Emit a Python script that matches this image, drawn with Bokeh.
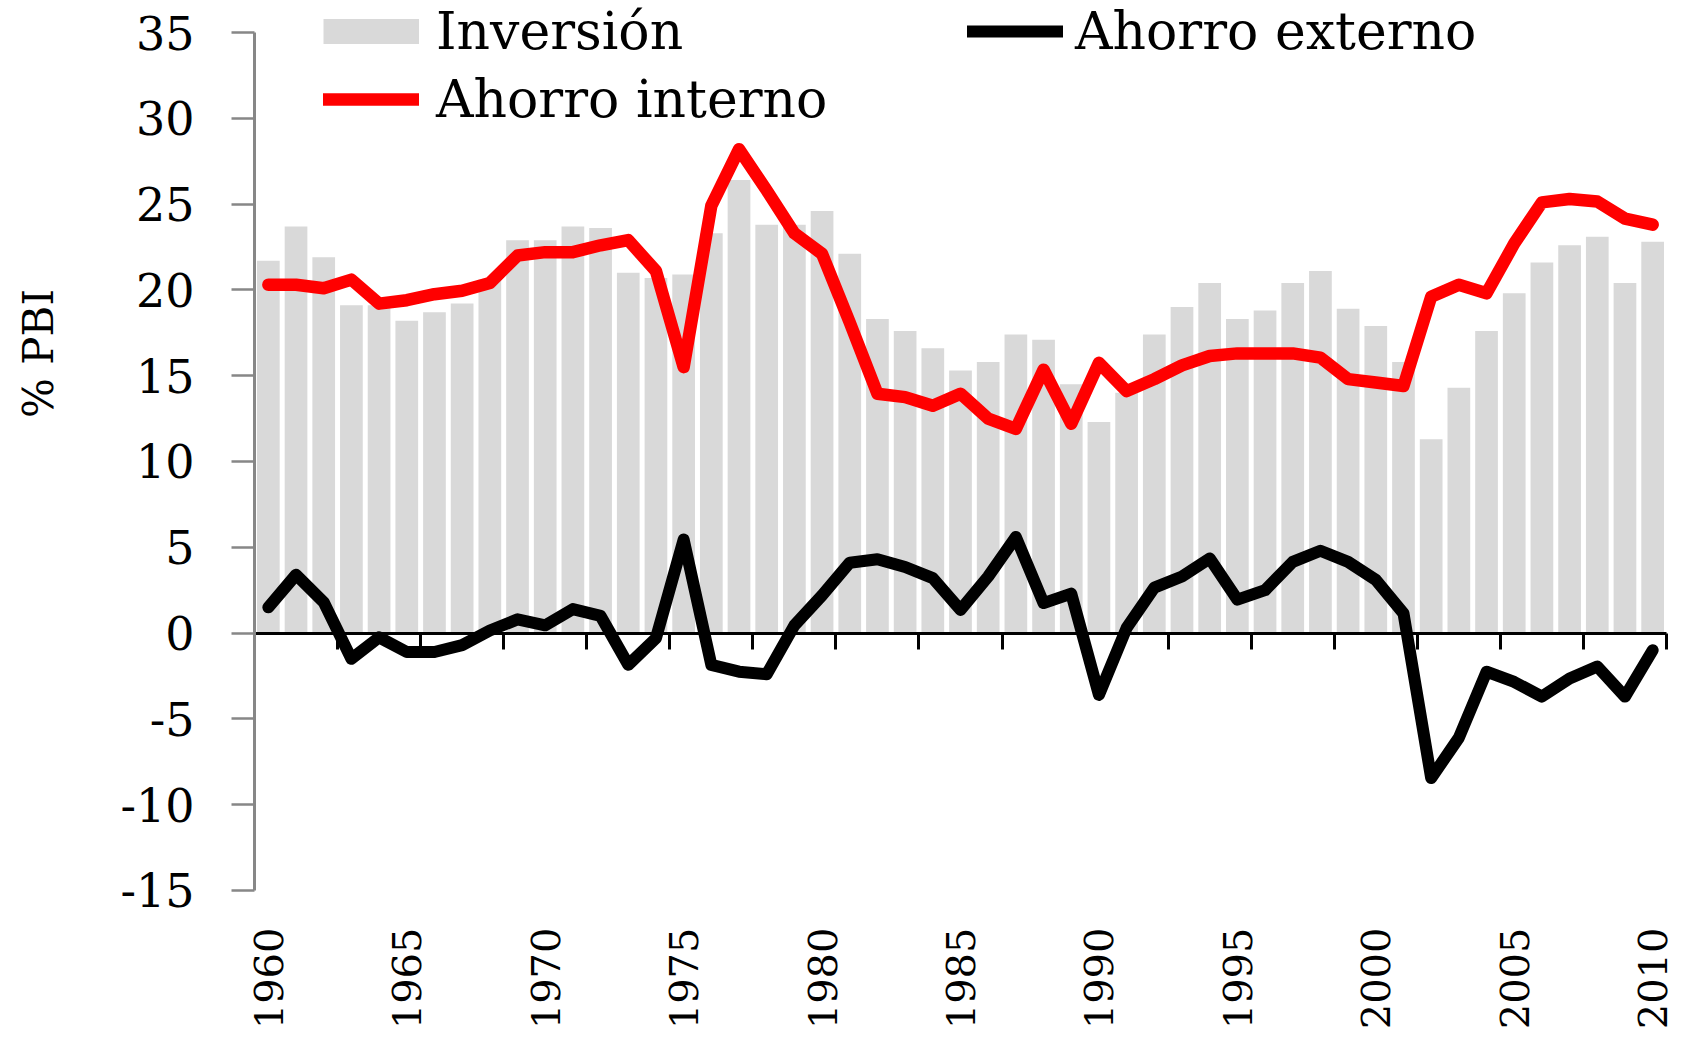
import math
import numpy as np
from bokeh.plotting import figure
from bokeh.models import (Range1d, LinearAxis, FixedTicker, Legend, LegendItem,
                          CustomJSTickFormatter, ColumnDataSource, Label)
from bokeh.embed import file_html
from bokeh.resources import INLINE

# ---------------- data ----------------
years = list(range(1960, 2011))

inversion = [21.7, 23.7, 21.9, 19.1, 19.1, 18.2, 18.7, 19.2, 20.6, 22.9,
             22.9, 23.7, 23.6, 21.0, 20.7, 20.9, 23.3, 26.4, 23.8, 23.8,
             24.6, 22.1, 18.3, 17.6, 16.6, 15.3, 15.8, 17.4, 17.1, 14.5,
             12.3, 14.0, 17.4, 19.0, 20.4, 18.3, 18.8, 20.4, 21.1, 18.9,
             17.9, 15.8, 11.3, 14.3, 17.6, 19.8, 21.6, 22.6, 23.1, 20.4,
             22.8]

ahorro_interno = [20.3, 20.3, 20.1, 20.6, 19.2, 19.4, 19.75, 19.95, 20.4, 22.0,
                  22.2, 22.2, 22.6, 22.9, 21.1, 15.5, 24.9, 28.2, 25.8, 23.3,
                  22.1, 18.1, 13.95, 13.75, 13.25, 13.95, 12.5, 11.9, 15.35, 12.2,
                  15.75, 14.1, 14.8, 15.6, 16.15, 16.3, 16.3, 16.3, 16.05, 14.8,
                  14.6, 14.4, 19.6, 20.3, 19.8, 22.7, 25.1, 25.3, 25.15, 24.15,
                  23.8]

ahorro_externo = [1.5, 3.4, 1.8, -1.5, -0.25, -1.1, -1.1, -0.7, 0.15, 0.8,
                  0.45, 1.4, 1.0, -1.85, -0.3, 5.45, -1.85, -2.25, -2.4, 0.45,
                  2.2, 4.1, 4.3, 3.85, 3.2, 1.35, 3.3, 5.6, 1.75, 2.3,
                  -3.6, 0.3, 2.65, 3.3, 4.35, 1.95, 2.5, 4.15, 4.8, 4.15,
                  3.1, 1.15, -8.45, -6.1, -2.25, -2.85, -3.7, -2.65, -1.95, -3.7,
                  -1.0]

y_ticks = [-15, -10, -5, 0, 5, 10, 15, 20, 25, 30, 35]
y_tick_labels = ["-15", "-10", "-5", "0", "5", "10", "15", "20", "25", "30", "35"]
x_label_years = [1960, 1965, 1970, 1975, 1980, 1985, 1990, 1995, 2000, 2005, 2010]
x_labels = ["1960", "1965", "1970", "1975", "1980", "1985", "1990", "1995",
            "2000", "2005", "2010"]

FONT = "DejaVu Serif"
GRAY_AXIS = "#878787"
W, H = 1678, 1030
PLOT_LEFT, PLOT_RIGHT = 254, 1666          # pixel extent of the category axis
CAT0, CAT1 = 1959.5, 2010.5                # category boundaries
PX = (PLOT_RIGHT - PLOT_LEFT) / (CAT1 - CAT0)

src = ColumnDataSource(dict(year=years, inv=inversion, ai=ahorro_interno, ae=ahorro_externo))

p = figure(width=W, height=H, output_backend="svg", toolbar_location=None,
           x_range=Range1d(CAT0 - PLOT_LEFT / PX, CAT1 + (W - PLOT_RIGHT) / PX),
           y_range=Range1d(-23.16, 36.865),
           x_axis_location=None, y_axis_location=None, min_border=0)
p.grid.visible = False
p.outline_line_color = None
p.background_fill_color = "white"

bars = p.vbar(x="year", top="inv", bottom=0, width=0.82, source=src,
              fill_color="#D9D9D9", line_color=None)
red = p.line(x="year", y="ai", source=src, line_color="#FF0000", line_width=12.5,
             line_join="round", line_cap="round")
blk = p.line(x="year", y="ae", source=src, line_color="#000000", line_width=12,
             line_join="round", line_cap="round")
# legend swatch for the bars (a thick butt-capped stroke in the bar colour, draws nothing in the plot)
swatch = p.line(x=[1960.0], y=np.array([np.nan]), line_color="#D9D9D9", line_width=25,
                line_cap="butt")

# ---------------- y axis (at the left edge of the categories) ----------------
ya = LinearAxis(fixed_location=CAT0, bounds=(-15, 35), ticker=FixedTicker(ticks=y_ticks))
ya.major_label_overrides = {t: s for t, s in zip(y_ticks, y_tick_labels)}
ya.axis_line_color = GRAY_AXIS
ya.axis_line_width = 3
ya.major_tick_line_color = GRAY_AXIS
ya.major_tick_line_width = 2.5
ya.major_tick_out = 23
ya.major_tick_in = 0
ya.minor_tick_line_color = None
ya.major_label_standoff = 37
ya.major_label_text_font = FONT
ya.major_label_text_font_size = "46px"
ya.major_label_text_color = "black"
p.add_layout(ya, "left")

# axis title
ylab = Label(x=38, y=H - 353, x_units="screen", y_units="screen", text="% PBI",
             angle=math.pi / 2, text_align="center", text_baseline="middle",
             text_font=FONT, text_font_size="42px", text_color="black")
p.add_layout(ylab)

# ---------------- x axis (line + ticks at y = 0) ----------------
xt = LinearAxis(fixed_location=0, bounds=(CAT0, CAT1),
                ticker=FixedTicker(ticks=[CAT0 + 3 * k for k in range(18)]),
                formatter=CustomJSTickFormatter(code="return ''"))
xt.axis_line_color = "black"
xt.axis_line_width = 3
xt.major_tick_line_color = "black"
xt.major_tick_line_width = 3
xt.major_tick_out = 16
xt.major_tick_in = 0
xt.minor_tick_line_color = None
p.add_layout(xt, "below")

# ---------------- x axis labels (low position) ----------------
xl = LinearAxis(fixed_location=-15, ticker=FixedTicker(ticks=x_label_years))
xl.major_label_overrides = {y: s for y, s in zip(x_label_years, x_labels)}
xl.axis_line_color = None
xl.major_tick_line_color = None
xl.major_tick_out = 0
xl.major_tick_in = 0
xl.minor_tick_line_color = None
xl.major_label_orientation = math.pi / 2
xl.major_label_standoff = 37
xl.major_label_text_font = FONT
xl.major_label_text_font_size = "40px"
xl.major_label_text_color = "black"
p.add_layout(xl, "below")

# ---------------- legends ----------------
def mk_legend(items, loc, standoff):
    lg = Legend(items=items, location=loc, orientation="vertical")
    lg.border_line_color = None
    lg.background_fill_alpha = 0
    lg.padding = 0
    lg.margin = 0
    lg.spacing = 6
    lg.glyph_width = 96
    lg.glyph_height = 62
    lg.label_height = 62
    lg.label_standoff = standoff
    lg.label_text_font = FONT
    lg.label_text_font_size = "52px"
    lg.label_text_color = "black"
    return lg

legA = mk_legend([LegendItem(label="Inversión", renderers=[swatch]),
                  LegendItem(label="Ahorro interno", renderers=[red])], (323, H - 130), 17)
legB = mk_legend([LegendItem(label="Ahorro externo", renderers=[blk])], (967, H - 62), 12)
p.add_layout(legA, "center")
p.add_layout(legB, "center")

open("out.html", "w").write(file_html(p, INLINE))
